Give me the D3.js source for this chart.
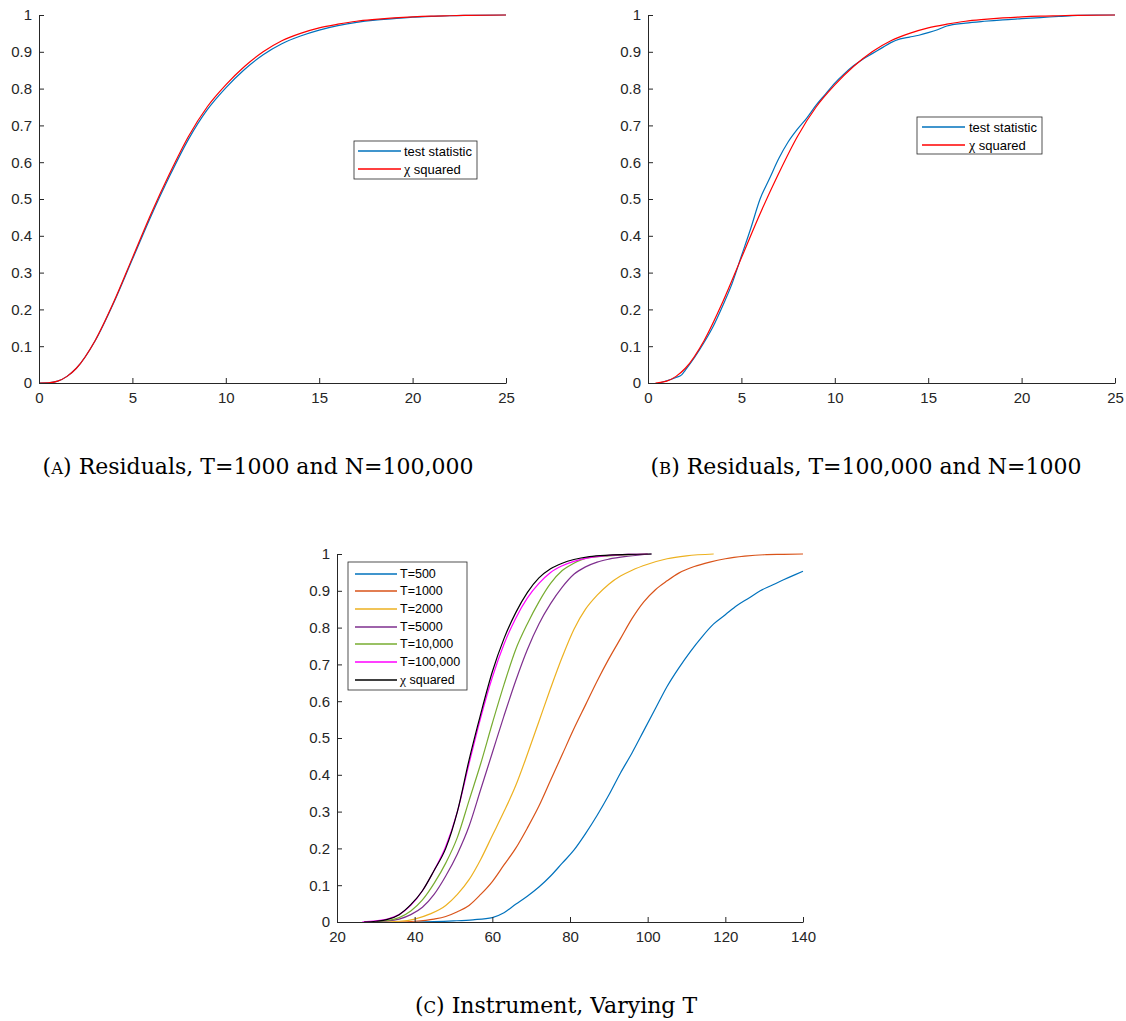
<!DOCTYPE html>
<html>
<head>
<meta charset="utf-8">
<script src="https://cdn.jsdelivr.net/npm/d3@7"></script>
<style>
  html, body { margin: 0; padding: 0; background: #fff; }
  svg { display: block; }
</style>
</head>
<body>
<svg id="chart" width="1126" height="1021"></svg>
<script>
// ---------- DATA ----------
const yTicks = [0, 0.1, 0.2, 0.3, 0.4, 0.5, 0.6, 0.7, 0.8, 0.9, 1];
const xTicksAB = [0, 5, 10, 15, 20, 25];
const xTicksC = [20, 40, 60, 80, 100, 120, 140];

// Panel A : residuals, T=1000, N=100,000
const aX    = [0, 0.5, 1, 1.5, 2, 3, 4, 5, 6, 7, 8, 9, 10, 11, 12, 13, 14, 15, 16, 17, 18, 19, 20, 21, 22, 23, 25];
const aChi  = [0, 0.0005, 0.005, 0.018, 0.04, 0.115, 0.22, 0.34, 0.46, 0.57, 0.67, 0.75, 0.81, 0.86, 0.90, 0.93, 0.95, 0.965, 0.975, 0.983, 0.988, 0.992, 0.995, 0.997, 0.998, 0.999, 1.0];
const aStat = [0, 0.0005, 0.005, 0.018, 0.04, 0.114, 0.218, 0.336, 0.454, 0.563, 0.662, 0.742, 0.802, 0.852, 0.892, 0.922, 0.943, 0.959, 0.971, 0.98, 0.986, 0.99, 0.994, 0.996, 0.998, 0.999, 1.0];

// Panel B : residuals, T=100,000, N=1000
const bChiX  = [0.4, 1, 1.5, 2, 3, 4, 5, 6, 7, 8, 9, 10, 11, 12, 13, 14, 15, 16, 17, 18, 19, 20, 21, 22, 23, 25];
const bChi   = [0, 0.005, 0.018, 0.04, 0.115, 0.22, 0.34, 0.46, 0.57, 0.67, 0.75, 0.81, 0.86, 0.90, 0.93, 0.95, 0.965, 0.975, 0.983, 0.988, 0.992, 0.995, 0.997, 0.998, 0.999, 1.0];
const bStatX = [0.6, 1, 1.5, 1.8, 2, 2.5, 3, 3.5, 4, 4.5, 5, 5.5, 6, 6.5, 7, 7.5, 8, 8.5, 9, 9.5, 10, 10.5, 11, 11.5, 12, 12.5, 13, 13.5, 14, 14.5, 15, 15.5, 16, 17, 18, 19, 20, 21, 22, 23, 24, 25];
const bStat  = [0, 0.006, 0.015, 0.022, 0.035, 0.07, 0.11, 0.155, 0.21, 0.27, 0.345, 0.42, 0.50, 0.555, 0.61, 0.655, 0.69, 0.72, 0.755, 0.785, 0.815, 0.84, 0.862, 0.88, 0.895, 0.91, 0.925, 0.935, 0.94, 0.945, 0.952, 0.96, 0.97, 0.978, 0.983, 0.987, 0.99, 0.993, 0.996, 0.999, 1.0, 1.0];

// Panel C : instrument, varying T
const cT500X = [40, 45, 50, 55, 60, 63, 66, 69, 72, 75, 78, 81, 84, 87, 90, 93, 96, 99, 102, 105, 108, 111, 114, 117, 120, 123, 126, 129, 132, 135, 138, 140];
const cT500  = [0, 0.001, 0.003, 0.006, 0.012, 0.025, 0.048, 0.07, 0.095, 0.125, 0.16, 0.195, 0.24, 0.29, 0.345, 0.405, 0.46, 0.52, 0.58, 0.64, 0.69, 0.735, 0.775, 0.81, 0.835, 0.86, 0.88, 0.9, 0.915, 0.93, 0.944, 0.953];
const cT1000X = [35, 40, 45, 48, 51, 54, 57, 60, 63, 66, 69, 72, 75, 78, 81, 84, 87, 90, 93, 96, 99, 102, 105, 108, 112, 116, 120, 125, 130, 135, 140];
const cT1000  = [0, 0.002, 0.008, 0.015, 0.028, 0.045, 0.075, 0.11, 0.155, 0.20, 0.255, 0.315, 0.385, 0.455, 0.525, 0.59, 0.655, 0.715, 0.77, 0.825, 0.87, 0.903, 0.927, 0.948, 0.966, 0.978, 0.987, 0.994, 0.998, 0.999, 1.0];
const cT2000X = [30, 36, 40, 44, 48, 51, 54, 57, 60, 63, 66, 69, 72, 75, 78, 81, 84, 87, 90, 93, 96, 100, 105, 110, 117];
const cT2000  = [0, 0.002, 0.008, 0.022, 0.045, 0.075, 0.115, 0.17, 0.235, 0.30, 0.37, 0.455, 0.545, 0.635, 0.72, 0.795, 0.85, 0.888, 0.918, 0.94, 0.956, 0.972, 0.987, 0.995, 1.0];
const cT5000X = [27, 33, 36, 39, 42, 45, 48, 51, 54, 57, 60, 63, 66, 69, 72, 75, 78, 81, 84, 87, 90, 95, 101];
const cT5000  = [0, 0.003, 0.008, 0.02, 0.04, 0.075, 0.125, 0.185, 0.26, 0.36, 0.46, 0.56, 0.655, 0.74, 0.81, 0.865, 0.91, 0.945, 0.965, 0.978, 0.986, 0.994, 1.0];
const cT10kX = [27, 33, 36, 39, 42, 45, 48, 51, 54, 57, 60, 63, 66, 69, 72, 75, 78, 81, 84, 90, 95, 100];
const cT10k  = [0, 0.004, 0.012, 0.03, 0.06, 0.105, 0.16, 0.23, 0.33, 0.43, 0.54, 0.645, 0.74, 0.81, 0.87, 0.92, 0.955, 0.975, 0.988, 0.995, 0.998, 1.0];
const cT100kX = [26.5, 30, 33, 36, 39, 42, 45, 48, 51, 54, 57, 60, 63, 66, 69, 72, 75, 78, 81, 85, 90, 95, 100];
const cT100k  = [0, 0.003, 0.008, 0.02, 0.045, 0.085, 0.14, 0.205, 0.30, 0.43, 0.555, 0.665, 0.755, 0.825, 0.88, 0.92, 0.95, 0.968, 0.98, 0.99, 0.996, 0.999, 1.0];
const cChiX = [27, 30, 33, 36, 39, 42, 45, 48, 51, 54, 57, 60, 63, 66, 69, 72, 75, 78, 81, 85, 90, 95, 101];
const cChi  = [0, 0.002, 0.007, 0.02, 0.047, 0.085, 0.14, 0.20, 0.30, 0.44, 0.565, 0.68, 0.77, 0.84, 0.895, 0.935, 0.96, 0.975, 0.985, 0.993, 0.997, 0.999, 1.0];

const seriesNamesAB = ["test statistic", "χ squared"];
const seriesNamesC = ["T=500", "T=1000", "T=2000", "T=5000", "T=10,000", "T=100,000", "χ squared"];
const captions = [
  {tag: "A", text: "Residuals, T=1000 and N=100,000"},
  {tag: "B", text: "Residuals, T=100,000 and N=1000"},
  {tag: "C", text: "Instrument, Varying T"}
];

// ---------- STYLE ----------
const axisColor = "#262626";
const sansFont = "'Liberation Sans', Arial, Helvetica, sans-serif";
const serifFont = "'DejaVu Serif', 'Liberation Serif', serif";
const colAB = ["#0072BD", "#FF0000"];
const colC = ["#0072BD", "#D95319", "#EDB120", "#7E2F8E", "#77AC30", "#FF00FF", "#000000"];

const svg = d3.select("#chart");

function zip(xs, ys) { return xs.map((x, i) => ({x: x, y: ys[i]})); }

function panel(opt) {
  const x = d3.scaleLinear().domain(opt.xDomain).range([opt.left, opt.right]);
  const y = d3.scaleLinear().domain([0, 1]).range([opt.bottom, opt.top]);
  const g = svg.append("g");

  const line = d3.line().x(d => x(d.x)).y(d => y(d.y)).curve(d3.curveMonotoneX);
  opt.series.forEach((s, i) => {
    g.append("path")
      .datum(s.data)
      .attr("fill", "none")
      .attr("stroke", s.color)
      .attr("stroke-width", 1.2)
      .attr("stroke-linejoin", "round")
      .attr("d", line);
  });

  const yAxis = d3.axisLeft(y).tickValues(yTicks).tickFormat(d => String(d))
    .tickSizeInner(-5).tickSizeOuter(0).tickPadding(7);
  const xAxis = d3.axisBottom(x).tickValues(opt.xTicks).tickFormat(d => String(d))
    .tickSizeInner(-5).tickSizeOuter(0).tickPadding(9);

  const ya = g.append("g").attr("transform", `translate(${opt.left},0)`).call(yAxis);
  const xa = g.append("g").attr("transform", `translate(0,${opt.bottom})`).call(xAxis);
  [ya, xa].forEach(a => {
    a.select(".domain").attr("stroke", axisColor).attr("stroke-width", 1);
    a.selectAll(".tick line").attr("stroke", axisColor).attr("stroke-width", 1);
    a.selectAll(".tick text").attr("fill", axisColor)
      .style("font-family", sansFont).style("font-size", "15px");
  });

  // legend
  const L = opt.legend;
  const lg = g.append("g");
  lg.append("rect").attr("x", L.x).attr("y", L.y).attr("width", L.w).attr("height", L.h)
    .attr("fill", "#fff").attr("stroke", axisColor).attr("stroke-width", 0.8);
  opt.series.forEach((s, i) => {
    const cy = Math.round(L.y + L.first + i * L.step);
    lg.append("line").attr("x1", L.x + L.l0).attr("x2", L.x + L.l1)
      .attr("y1", cy).attr("y2", cy).attr("stroke", s.color).attr("stroke-width", 1.4);
    const t = lg.append("text").attr("x", L.x + L.tx).attr("y", cy).attr("dy", "0.35em")
      .attr("fill", "#000").style("font-family", sansFont).style("font-size", L.fs + "px");
    if (s.name.startsWith("χ")) {
      t.append("tspan").style("font-family", "'Liberation Serif', 'DejaVu Serif', serif")
        .style("font-size", (L.fs + 1) + "px").text("χ");
      t.append("tspan").text(s.name.slice(1));
    } else {
      t.text(s.name);
    }
  });
}

function caption(c, cx, baseline) {
  const t = svg.append("text").attr("x", cx).attr("y", baseline)
    .attr("text-anchor", "middle").attr("fill", "#000")
    .style("font-family", serifFont).style("font-size", "22px");
  t.append("tspan").text("(");
  t.append("tspan").style("font-size", "16.5px").text(c.tag);
  t.append("tspan").text(") " + c.text);
}

// Panel A
panel({
  left: 39, right: 506, top: 15, bottom: 383, xDomain: [0, 25], xTicks: xTicksAB,
  series: [
    {name: seriesNamesAB[0], color: colAB[0], data: zip(aX, aStat)},
    {name: seriesNamesAB[1], color: colAB[1], data: zip(aX, aChi)}
  ],
  legend: {x: 354, y: 141, w: 123, h: 38, first: 10, step: 18, l0: 4, l1: 47, tx: 50, fs: 13}
});

// Panel B
panel({
  left: 648, right: 1115, top: 15, bottom: 383, xDomain: [0, 25], xTicks: xTicksAB,
  series: [
    {name: seriesNamesAB[0], color: colAB[0], data: zip(bStatX, bStat)},
    {name: seriesNamesAB[1], color: colAB[1], data: zip(bChiX, bChi)}
  ],
  legend: {x: 917, y: 117, w: 125, h: 37, first: 10, step: 18, l0: 5, l1: 48, tx: 52, fs: 13}
});

// Panel C
const cData = [zip(cT500X, cT500), zip(cT1000X, cT1000), zip(cT2000X, cT2000), zip(cT5000X, cT5000),
               zip(cT10kX, cT10k), zip(cT100kX, cT100k), zip(cChiX, cChi)];
panel({
  left: 337, right: 803, top: 554, bottom: 922, xDomain: [20, 140], xTicks: xTicksC,
  series: seriesNamesC.map((n, i) => ({name: n, color: colC[i], data: cData[i]})),
  legend: {x: 348, y: 562, w: 119, h: 128, first: 11.5, step: 17.7, l0: 7, l1: 49, tx: 52, fs: 12.5}
});

caption(captions[0], 258, 474);
caption(captions[1], 866, 474);
caption(captions[2], 556, 1013);
</script>
</body>
</html>
